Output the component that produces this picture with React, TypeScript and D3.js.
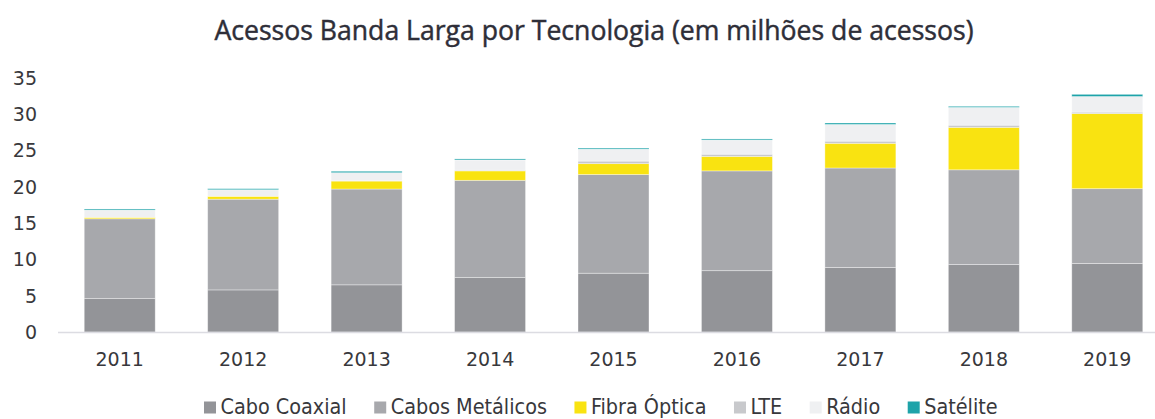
import React, { useLayoutEffect, useRef, useState } from 'react';
import * as d3 from 'd3';

const WIDTH = 1155;
const HEIGHT = 419;

const years = ['2011', '2012', '2013', '2014', '2015', '2016', '2017', '2018', '2019'];

// milhões de acessos
const caboCoaxial = [4.6, 5.8, 6.5, 7.5, 8.1, 8.45, 8.9, 9.3, 9.45];
const cabosMetalicos = [11.0, 12.5, 13.2, 13.4, 13.6, 13.75, 13.7, 13.05, 10.3];
const fibraOptica = [0.2, 0.4, 1.1, 1.3, 1.5, 2.0, 3.4, 5.85, 10.35];
const lte = [0.0, 0.0, 0.05, 0.1, 0.35, 0.3, 0.3, 0.3, 0.2];
const radio = [1.0, 0.9, 1.1, 1.4, 1.65, 1.95, 2.3, 2.45, 2.15];
const satelite = [0.15, 0.15, 0.2, 0.15, 0.15, 0.15, 0.2, 0.15, 0.3];

const yTicks = [0, 5, 10, 15, 20, 25, 30, 35];

const series = [
  { key: 'Cabo Coaxial', values: caboCoaxial, color: '#939498' },
  { key: 'Cabos Metálicos', values: cabosMetalicos, color: '#a7a8ac' },
  { key: 'Fibra Óptica', values: fibraOptica, color: '#f9e311' },
  { key: 'LTE', values: lte, color: '#c8c9cc' },
  { key: 'Rádio', values: radio, color: '#eff0f2' },
  { key: 'Satélite', values: satelite, color: '#1ea3a9' },
];

const TEXT = '#38383c';

function Legend() {
  const refs = useRef<(SVGTextElement | null)[]>([]);
  const [widths, setWidths] = useState<number[]>(series.map(() => 0));

  useLayoutEffect(() => {
    setWidths(refs.current.map((el) => (el ? el.getComputedTextLength() : 0)));
  }, []);

  let x = 204;
  return (
    <g>
      {series.map((s, i) => {
        const x0 = x;
        x += 12 + 4.5 + widths[i] + 27.5;
        return (
          <g key={s.key} transform={`translate(${x0},0)`}>
            <rect x={0} y={401.5} width={12} height={12} fill={s.color} />
            <text
              ref={(el) => {
                refs.current[i] = el;
              }}
              x={16.5}
              y={414}
              fontSize={21.4}
              fontFamily="'DejaVu Sans Condensed', 'DejaVu Sans', sans-serif"
              fill={TEXT}
            >
              {s.key}
            </text>
          </g>
        );
      })}
    </g>
  );
}

function App() {
  const x = d3.scaleBand<string>().domain(years).range([58, 1169]).paddingInner(0.425).paddingOuter(0.2125);
  const y = d3.scaleLinear().domain([0, 35]).range([332, 78]);

  const table = years.map((year, i) => {
    const row: Record<string, any> = { year };
    series.forEach((s) => {
      row[s.key] = s.values[i];
    });
    return row;
  });
  const stacked = d3.stack<Record<string, any>>().keys(series.map((s) => s.key))(table);

  return (
    <svg
      width={WIDTH}
      height={HEIGHT}
      style={{ position: 'absolute', left: 0, top: 0, background: '#fff' }}
    >
      <text
        x={594}
        y={40}
        textAnchor="middle"
        fontSize={26.6}
        fontFamily="'Open Sans', 'DejaVu Sans', sans-serif"
        fill="#2e2e38"
        stroke="#2e2e38"
        strokeWidth={0.45}
      >
        Acessos Banda Larga por Tecnologia (em milhões de acessos)
      </text>

      {yTicks.map((t) => (
        <text
          key={t}
          x={37}
          y={y(t)}
          dy="0.36em"
          textAnchor="end"
          fontSize={19}
          fontFamily="'DejaVu Sans', Verdana, sans-serif"
          fill={TEXT}
        >
          {t}
        </text>
      ))}

      {stacked.map((layer, si) => (
        <g key={layer.key}>
          {layer.map((d, i) => {
            const h = y(d[0]) - y(d[1]);
            if (h <= 0) return null;
            return (
              <rect
                key={years[i]}
                x={x(years[i])}
                y={y(d[1])}
                width={x.bandwidth()}
                height={h}
                fill={series[si].color}
                stroke="#ffffff"
                strokeOpacity={0.45}
                strokeWidth={0.8}
              />
            );
          })}
        </g>
      ))}

      <line x1={58} x2={WIDTH} y1={y(0) + 0.5} y2={y(0) + 0.5} stroke="#dcdce2" strokeWidth={1.5} />

      {years.map((yr) => (
        <text
          key={yr}
          x={(x(yr) ?? 0) + x.bandwidth() / 2}
          y={366}
          textAnchor="middle"
          fontSize={19}
          fontFamily="'DejaVu Sans', Verdana, sans-serif"
          fill={TEXT}
        >
          {yr}
        </text>
      ))}

      <Legend />
    </svg>
  );
}

export default App;
